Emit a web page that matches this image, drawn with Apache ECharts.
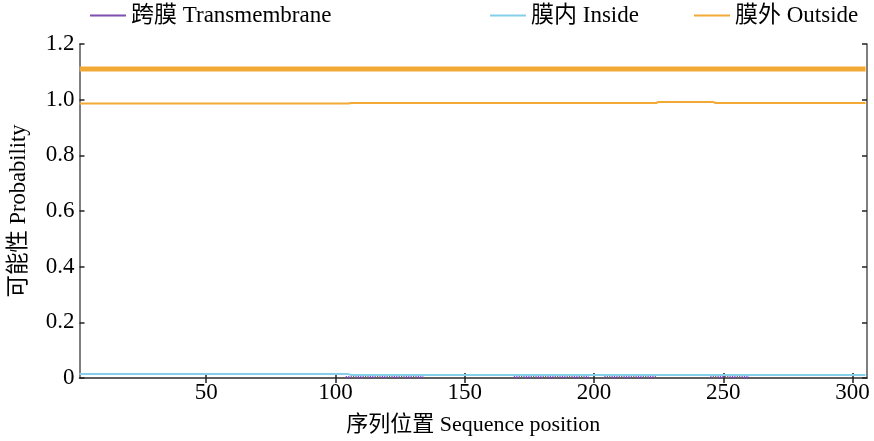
<!DOCTYPE html>
<html>
<head>
<meta charset="utf-8">
<script src="https://cdn.jsdelivr.net/npm/echarts@6/dist/echarts.min.js"></script>
<style>
  html, body { margin: 0; padding: 0; background: #fff; }
  #chart { width: 874px; height: 441px; }
</style>
</head>
<body>
<div id="chart"></div>
<script>
// Per-residue membrane topology probabilities, stored as runs [start, end, probability]
const seqStart = 1;
const seqEnd = 305;
const transmembraneRuns = [[104, 134, 0.004], [169, 198, 0.004], [204, 224, 0.004], [245, 260, 0.004]];
const insideRuns = [[1, 105, 0.014], [106, 305, 0.011]];
const outsideRuns = [[1, 105, 0.986], [106, 224, 0.988], [225, 246, 0.992], [247, 305, 0.988]];
// Predicted topology band (outside along the whole sequence)
const topologyRuns = [[1, 305, 1.11]];
const xTicks = [50, 100, 150, 200, 250, 300];
const yTicks = [0, 0.2, 0.4, 0.6, 0.8, 1.0, 1.2];
const seriesNames = ['跨膜 Transmembrane', '膜内 Inside', '膜外 Outside'];

// Expand runs into [position, value] points; separate runs that do not touch
function expandRuns(runs) {
  const pts = [];
  runs.forEach(([a, b, v], i) => {
    if (i > 0 && a > runs[i - 1][1] + 1) pts.push([(a + runs[i - 1][1]) / 2, '-']);
    for (let x = a; x <= b; x++) pts.push([x, v]);
  });
  return pts;
}

const FONT = '"Liberation Serif", "Noto Sans CJK SC", serif';
const AXIS = '#555555';
const TEXT = '#000';
const colors = ['#7d4fae', '#86cfea', '#f3a936'];

const chart = echarts.init(document.getElementById('chart'), null, { renderer: 'canvas' });

const legendBase = {
  top: 4, padding: 0, icon: 'rect', itemWidth: 36, itemHeight: 2, itemGap: 4,
  textStyle: { fontFamily: FONT, fontSize: 23, color: TEXT }
};

const hiddenAxisParts = {
  axisLabel: { show: false }, splitLine: { show: false }
};

chart.setOption({
  animation: false,
  backgroundColor: '#fff',
  grid: { left: 79, right: 7, top: 44, bottom: 63 },
  legend: [
    Object.assign({}, legendBase, { left: 90, data: [seriesNames[0]] }),
    Object.assign({}, legendBase, { left: 490, data: [seriesNames[1]] }),
    Object.assign({}, legendBase, { left: 694, data: [seriesNames[2]] })
  ],
  xAxis: [
    {
      type: 'value', min: seqStart, max: 305.6, position: 'bottom',
      name: '序列位置 Sequence position', nameLocation: 'middle', nameGap: 36,
      nameTextStyle: { fontFamily: FONT, fontSize: 22, color: TEXT },
      axisLine: { show: true, lineStyle: { color: AXIS, width: 1.5 } },
      axisTick: { show: true, inside: true, length: 5, customValues: xTicks, lineStyle: { color: '#222', width: 1.5 } },
      axisLabel: { show: true, customValues: xTicks, margin: 3, fontFamily: FONT, fontSize: 23, color: TEXT },
      splitLine: { show: false }
    },
    Object.assign({
      type: 'value', min: seqStart, max: 305.6, position: 'top',
      axisLine: { show: true, lineStyle: { color: AXIS, width: 1.5 } },
      axisTick: { show: true, inside: true, length: 5, customValues: xTicks, lineStyle: { color: '#222', width: 1.5 } }
    }, hiddenAxisParts)
  ],
  yAxis: [
    {
      type: 'value', min: 0, max: 1.2, interval: 0.2, position: 'left',
      name: '可能性 Probability', nameLocation: 'middle', nameGap: 49,
      nameTextStyle: { fontFamily: FONT, fontSize: 22.5, color: TEXT },
      axisLine: { show: true, lineStyle: { color: AXIS, width: 1.5 } },
      axisTick: { show: true, inside: true, length: 5, customValues: yTicks, lineStyle: { color: '#222', width: 1.5 } },
      axisLabel: {
        show: true, margin: 5, fontFamily: FONT, fontSize: 23, color: TEXT,
        customValues: yTicks,
        formatter: v => (v === 0 ? '0' : v.toFixed(1))
      },
      splitLine: { show: false }
    },
    Object.assign({
      type: 'value', min: 0, max: 1.2, interval: 0.2, position: 'right',
      axisLine: { show: true, lineStyle: { color: AXIS, width: 1.5 } },
      axisTick: { show: true, inside: true, length: 5, lineStyle: { color: '#222', width: 1.5 } }
    }, hiddenAxisParts)
  ],
  series: [
    {
      name: seriesNames[1], type: 'line', data: expandRuns(insideRuns),
      showSymbol: false, color: colors[1],
      lineStyle: { width: 2, color: colors[1] }, z: 2
    },
    {
      name: seriesNames[0], type: 'line', data: expandRuns(transmembraneRuns),
      showSymbol: false, connectNulls: false, color: colors[0],
      lineStyle: { width: 2, type: [1.2, 1.2], color: colors[0] }, z: 3
    },
    {
      name: seriesNames[2], type: 'line', data: expandRuns(outsideRuns),
      showSymbol: false, color: colors[2],
      lineStyle: { width: 2, color: colors[2] }, z: 2
    },
    {
      name: 'topology', type: 'line', data: expandRuns(topologyRuns),
      showSymbol: false, color: colors[2],
      lineStyle: { width: 5, color: colors[2] }, z: 2
    }
  ]
});
</script>
</body>
</html>
